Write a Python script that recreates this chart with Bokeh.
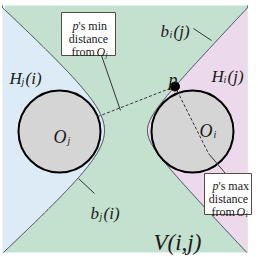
import numpy as np
from bokeh.plotting import figure
from bokeh.models import Range1d
from bokeh.core.properties import value
from bokeh.embed import file_html
from bokeh.resources import INLINE

# ---- diagram values (picture units) ----
frame_x = [4, 247]
frame_y = [5, 252]

circle_x = [59, 192]
circle_y = [131, 131]
circle_r = [41, 41]

p_point = [174.5, 86]

# boundary curves b_j(i) (left) and b_i(j) (right): vertex x, centre y, a, asymptote slope k
bj_vertex, bj_cy, bj_a, bj_k = 104, 130, 38.5, 1.1
bi_vertex, bi_cy, bi_a, bi_k = 147, 130, 18.0, 0.95

# annotation anchors
min_leader_x = [101, 120]
min_leader_y = [55, 110]
max_dash_end = [208, 153]
max_leader_x = [208, 225]
max_leader_y = [153, 173]
bi_leader_x = [193, 211]
bi_leader_y = [28, 40]
bj_leader_x = [78, 94]
bj_leader_y = [178, 193]
box1 = [61, 115, 12, 55]
box2 = [204, 251, 173, 214]

GREEN = "#c4e1cf"
BLUE = "#dcebf5"
PINK = "#ecdaec"
LINE = "#3c4650"

p = figure(width=258, height=257, output_backend="svg", toolbar_location=None,
           x_range=Range1d(0, 258), y_range=Range1d(257, 0), min_border=0)
p.axis.visible = False
p.grid.visible = False
p.outline_line_color = None
p.background_fill_color = "white"
p.border_fill_color = "white"

# background (V(i,j))
p.quad(left=[frame_x[0]], right=[frame_x[1]], top=[frame_y[0]], bottom=[frame_y[1]],
       fill_color=GREEN, line_color=None)

ys = np.linspace(frame_y[0], frame_y[1], 300)
u = ys - bj_cy
xl = bj_vertex - (np.sqrt(bj_a**2 + (bj_k * u) ** 2) - bj_a)
xl = np.maximum(xl, 2)
u2 = ys - bi_cy
xr = bi_vertex + (np.sqrt(bi_a**2 + (bi_k * u2) ** 2) - bi_a)
xr = np.minimum(xr, frame_x[1])

# H_j(i) region
p.patch(list(xl) + [2, 2], list(ys) + [frame_y[1], frame_y[0]], fill_color=BLUE, line_color=None)
# H_i(j) region
p.patch(list(xr) + [frame_x[1], frame_x[1]], list(ys) + [frame_y[1], frame_y[0]], fill_color=PINK, line_color=None)

p.line(xl, ys, line_color=LINE, line_width=1)
p.line(xr, ys, line_color=LINE, line_width=1)

# circles
p.circle(circle_x, circle_y, radius=circle_r, fill_color="#d5d5d5", line_color="black", line_width=2)

# dashed distance lines
ojx, ojy = circle_x[0], circle_y[0]
dx, dy = p_point[0] - ojx, p_point[1] - ojy
d = np.hypot(dx, dy)
sx, sy = ojx + circle_r[0] * dx / d, ojy + circle_r[0] * dy / d
p.line([sx, p_point[0]], [sy, p_point[1]], line_color="#333", line_dash="3 2", line_width=1)
p.line([p_point[0], max_dash_end[0]], [p_point[1], max_dash_end[1]], line_color="#333", line_dash="3 2", line_width=1)

# leaders
for lx, ly in [(min_leader_x, min_leader_y), (max_leader_x, max_leader_y),
               (bi_leader_x, bi_leader_y), (bj_leader_x, bj_leader_y)]:
    p.line(lx, ly, line_color="#333", line_width=1)

# point p
p.scatter([p_point[0]], [p_point[1]], size=9, marker="circle", fill_color="black", line_color="black")

# boxes
for b in (box1, box2):
    p.quad(left=[b[0]], right=[b[1]], top=[b[2]], bottom=[b[3]], fill_color="white",
           line_color="#5a4a40", line_width=1)

FONT = value("Liberation Serif")


def txt(x, y, s, size, italic=True, align="left", color="#1a1a1a"):
    p.text(x=[x], y=[y], text=[s], text_font=FONT, text_font_size=f"{size}px",
           text_font_style="italic" if italic else "normal", text_align=align,
           text_baseline="alphabetic", text_color=color)


# labels
txt(9, 78, "H", 17)
txt(21, 81, "j", 10)
txt(25, 78, "(i)", 17)

txt(53, 136, "O", 18)
txt(67, 140, "j", 10)
txt(199, 130, "O", 18)
txt(213, 134, "i", 10)

txt(168, 79, "p", 18)

txt(160, 31, "b", 17)
txt(169, 34, "i", 10)
txt(173, 31, "(j)", 17)

txt(211, 76, "H", 17)
txt(223, 79, "i", 10)
txt(227, 76, "(j)", 17)

txt(90, 213, "b", 17)
txt(99, 216, "j", 10)
txt(103, 213, "(i)", 17)

txt(153, 242, "V(i,j)", 23)

# box 1 text
txt(72, 25, "p", 12)
txt(78, 25, "'s min", 12, italic=False)
txt(88, 38, "distance", 12, italic=False, align="center")
txt(71, 51, "from ", 12, italic=False)
txt(96, 51, "O", 12)
txt(105, 54, "j", 8)

# box 2 text
txt(212, 185, "p", 12)
txt(218, 185, "'s max", 12, italic=False)
txt(228, 198, "distance", 12, italic=False, align="center")
txt(211, 211, "from ", 12, italic=False)
txt(236, 211, "O", 12)
txt(245, 214, "i", 8)

open("out.html", "w").write(file_html(p, INLINE))
